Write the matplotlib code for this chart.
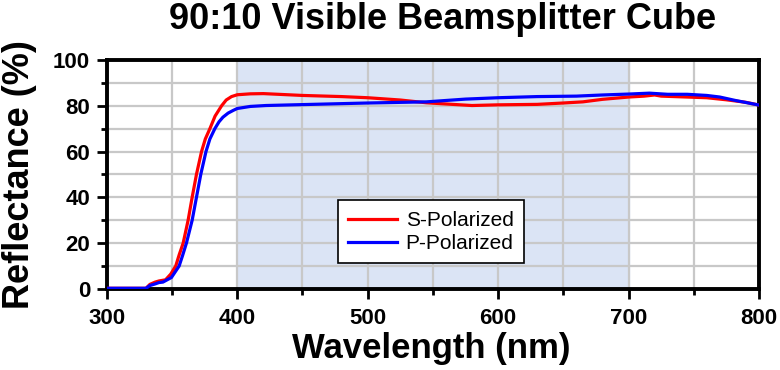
import numpy as np
import matplotlib
matplotlib.use("Agg")
import matplotlib.pyplot as plt

# values
wl_s = [300, 330, 333, 337, 340, 345, 349, 352.8, 355.5, 358.5, 362.3, 365.4, 368.7, 372.6, 375.5,
        379, 383, 388, 391.5, 395.6, 400, 410, 420, 450, 480, 500, 525, 545, 565, 580, 600,
        630, 650, 665, 680, 700, 712, 720, 725, 740, 760, 775, 790, 800]
s_pol = [0.3, 0.3, 2.0, 3.0, 3.5, 4.0, 6.5, 10.0, 15.0, 20.0, 30.0, 40.0, 50.0, 60.0, 65.5,
         70.0, 75.5, 80.0, 82.5, 84.0, 84.8, 85.2, 85.3, 84.5, 84.0, 83.5, 82.5, 81.3, 80.6, 80.1, 80.4,
         80.6, 81.2, 81.7, 82.8, 83.8, 84.2, 84.7, 84.2, 83.9, 83.5, 82.6, 81.5, 80.3]
wl_p = [300, 330, 333, 337, 340, 343, 349.5, 355.4, 358, 361, 365.4, 368.7, 372, 376, 379, 382.8,
        386, 389, 393, 397, 400, 410, 422, 450, 500, 545, 575, 600, 630, 660, 680, 700, 716,
        730, 745, 760, 770, 782, 800]
p_pol = [0.3, 0.3, 1.5, 2.2, 2.8, 3.0, 5.0, 10.0, 14.5, 20.0, 30.0, 40.0, 50.0, 60.0, 65.5, 70.0,
         73.0, 75.0, 76.8, 78.0, 78.8, 79.7, 80.1, 80.5, 81.2, 81.7, 82.9, 83.5, 84.0, 84.2, 84.7, 85.1, 85.5,
         85.0, 85.0, 84.5, 83.8, 82.3, 80.3]
band = (400, 700)

plt.rcParams["font.family"] = ["Liberation Sans", "DejaVu Sans"]

fig = plt.figure(figsize=(7.8, 3.7), dpi=100)
ax = fig.add_axes([0.137, 0.219, 0.836, 0.619])

ax.axvspan(band[0], band[1], color="#dbe4f5", zorder=0)
ax.plot(wl_s, s_pol, color="#ff0000", lw=2.3, label="S-Polarized", zorder=3)
ax.plot(wl_p, p_pol, color="#0000ff", lw=2.3, label="P-Polarized", zorder=3)

ax.set_xlim(300, 800)
ax.set_ylim(0, 100)
ax.set_xticks(np.arange(300, 801, 100))
ax.set_xticks(np.arange(350, 800, 100), minor=True)
ax.set_yticks(np.arange(0, 101, 20))
ax.set_yticks(np.arange(10, 100, 20), minor=True)
ax.grid(True, which="both", color="#c8c8c8", lw=1.6, zorder=1)
ax.set_axisbelow(True)

for sp in ax.spines.values():
    sp.set_linewidth(2.8)
ax.tick_params(which="major", length=7, width=2, direction="out", labelsize=16)
ax.tick_params(axis="x", which="major", pad=7)
ax.tick_params(axis="y", which="major", pad=5)
ax.tick_params(which="minor", length=4, width=2, direction="out")
for lab in ax.get_xticklabels() + ax.get_yticklabels():
    lab.set_fontweight("bold")

ax.set_xlabel("Wavelength (nm)", fontsize=25, fontweight="bold")
ax.xaxis.set_label_coords(0.497, -0.19)
ax.set_ylabel("Reflectance (%)", fontsize=26, fontweight="bold")
ax.yaxis.set_label_coords(-0.107, 0.5)
fig.text(0.567, 0.946, "90:10 Visible Beamsplitter Cube", fontsize=26, fontweight="bold",
         ha="center", va="center")

leg = ax.legend(loc="center", bbox_to_anchor=(0.497, 0.249), fontsize=15, frameon=True,
                fancybox=False, handlelength=2.35, borderpad=0.5, labelspacing=0.2,
                handletextpad=0.4)
leg.get_frame().set_edgecolor("black")
leg.get_frame().set_linewidth(1.2)
leg.get_frame().set_alpha(1)

fig.savefig("out.png", dpi=100)
